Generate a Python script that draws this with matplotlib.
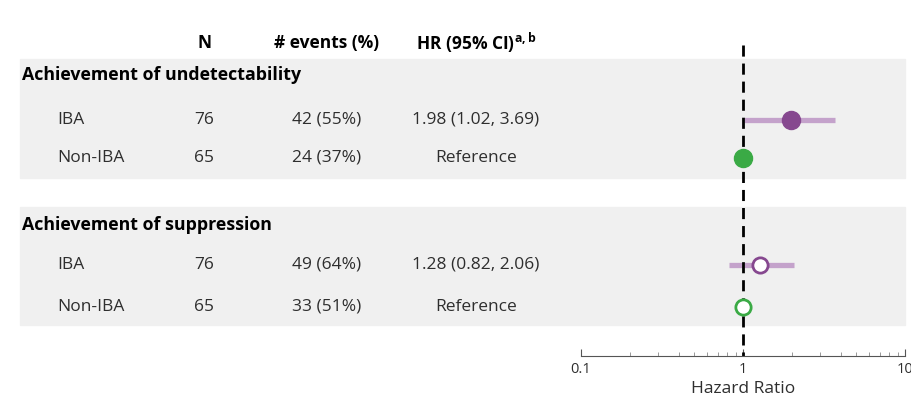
import numpy as np
import matplotlib.pyplot as plt
from matplotlib.patches import Rectangle

plt.rcParams['font.family'] = ['Open Sans', 'DejaVu Sans']
plt.rcParams['mathtext.fontset'] = 'custom'
plt.rcParams['mathtext.rm'] = 'Open Sans'
plt.rcParams['mathtext.bf'] = 'Open Sans:bold'

# data
groups = ['Achievement of undetectability', 'Achievement of suppression']
arms = ['IBA', 'Non-IBA']
n_vals = [[76, 65], [76, 65]]
events = [['42 (55%)', '24 (37%)'], ['49 (64%)', '33 (51%)']]
hr_text = [['1.98 (1.02, 3.69)', 'Reference'], ['1.28 (0.82, 2.06)', 'Reference']]
hr = [[1.98, 1.0], [1.28, 1.0]]
ci_lo = [[1.02, np.nan], [0.82, np.nan]]
ci_hi = [[3.69, np.nan], [2.06, np.nan]]

# layout (row units, header at 0)
head_y = [0.8, 4.55]
arm_y = [[1.925, 2.875], [5.55, 6.6]]
panel_span = [(0.4, 3.375), (4.1, 7.05)]

purple = '#86488f'
purple_ci = '#c4a2cb'
green = '#3aaa45'
panel_col = '#f0f0f0'
txt_col = '#2e2e2e'

W, H = 912, 404
fig = plt.figure(figsize=(W / 100, H / 100), dpi=100)

# background / table axes covering the whole figure
unit = 40.0
y0 = 43.0
tab = fig.add_axes([0, 0, 1, 1])
tab.set_xlim(0, W)
tab.set_ylim((H - y0) / unit, -y0 / unit)
tab.axis('off')

for lo, hi in panel_span:
    tab.add_patch(Rectangle((20, lo), 885, hi - lo, color=panel_col, zorder=0))

fs = 12.5
tab.text(205, 0, 'N', ha='center', va='center', fontsize=fs, fontweight='bold')
tab.text(327, 0, '# events (%)', ha='center', va='center', fontsize=fs, fontweight='bold')
tab.text(476, 0, r'HR (95% CI)$^{\mathbf{a,b}}$', ha='center', va='center',
         fontsize=fs, fontweight='bold')

for g in range(2):
    tab.text(22, head_y[g], groups[g], ha='left', va='center', fontsize=12.8,
             fontweight='bold', color='black')
    for a in range(2):
        y = arm_y[g][a]
        tab.text(57, y, arms[a], ha='left', va='center', fontsize=fs, color=txt_col)
        tab.text(204, y, str(n_vals[g][a]), ha='center', va='center', fontsize=fs, color=txt_col)
        tab.text(327, y, events[g][a], ha='center', va='center', fontsize=fs, color=txt_col)
        tab.text(476, y, hr_text[g][a], ha='center', va='center', fontsize=fs, color=txt_col)

# forest plot axes
ax_left, ax_right = 581, 905
ax_top, ax_bot = 30, 356
ax = fig.add_axes([ax_left / W, (H - ax_bot) / H, (ax_right - ax_left) / W, (ax_bot - ax_top) / H])
ax.patch.set_alpha(0)
ax.set_xscale('log')
ax.set_xlim(0.1, 10)
ax.set_ylim((ax_bot - y0) / unit, (ax_top - y0) / unit)

ax.plot([1, 1], [0.05, (ax_bot - y0) / unit], color='black', lw=2, ls=(0, (4, 2.5)), zorder=2)

for g in range(2):
    filled = g == 0
    for a in range(2):
        y = arm_y[g][a]
        col = purple if a == 0 else green
        if not np.isnan(ci_lo[g][a]):
            ax.plot([ci_lo[g][a], ci_hi[g][a]], [y, y], color=purple_ci, lw=3.8,
                    solid_capstyle='butt', zorder=1)
        if filled:
            ax.plot(hr[g][a], y, 'o', ms=13, color=col, mec=col, zorder=3)
        else:
            ax.plot(hr[g][a], y, 'o', ms=11, mfc='white', mec=col, mew=2, zorder=3)

for s in ['top', 'right', 'left']:
    ax.spines[s].set_visible(False)
ax.spines['bottom'].set_color('#555555')
ax.spines['bottom'].set_linewidth(0.8)
ax.set_yticks([])
ax.set_xticks([0.1, 1, 10])
ax.set_xticklabels(['0.1', '1', '10'])
ax.tick_params(axis='x', which='major', direction='in', length=5, width=0.8,
               color='#555555', labelsize=10.5, labelcolor=txt_col, pad=4)
ax.tick_params(axis='x', which='minor', direction='in', length=3, width=0.6, color='#888888')
ax.set_xlabel('Hazard Ratio', fontsize=12.5, color=txt_col, labelpad=3)

fig.savefig('out.png', dpi=100)
